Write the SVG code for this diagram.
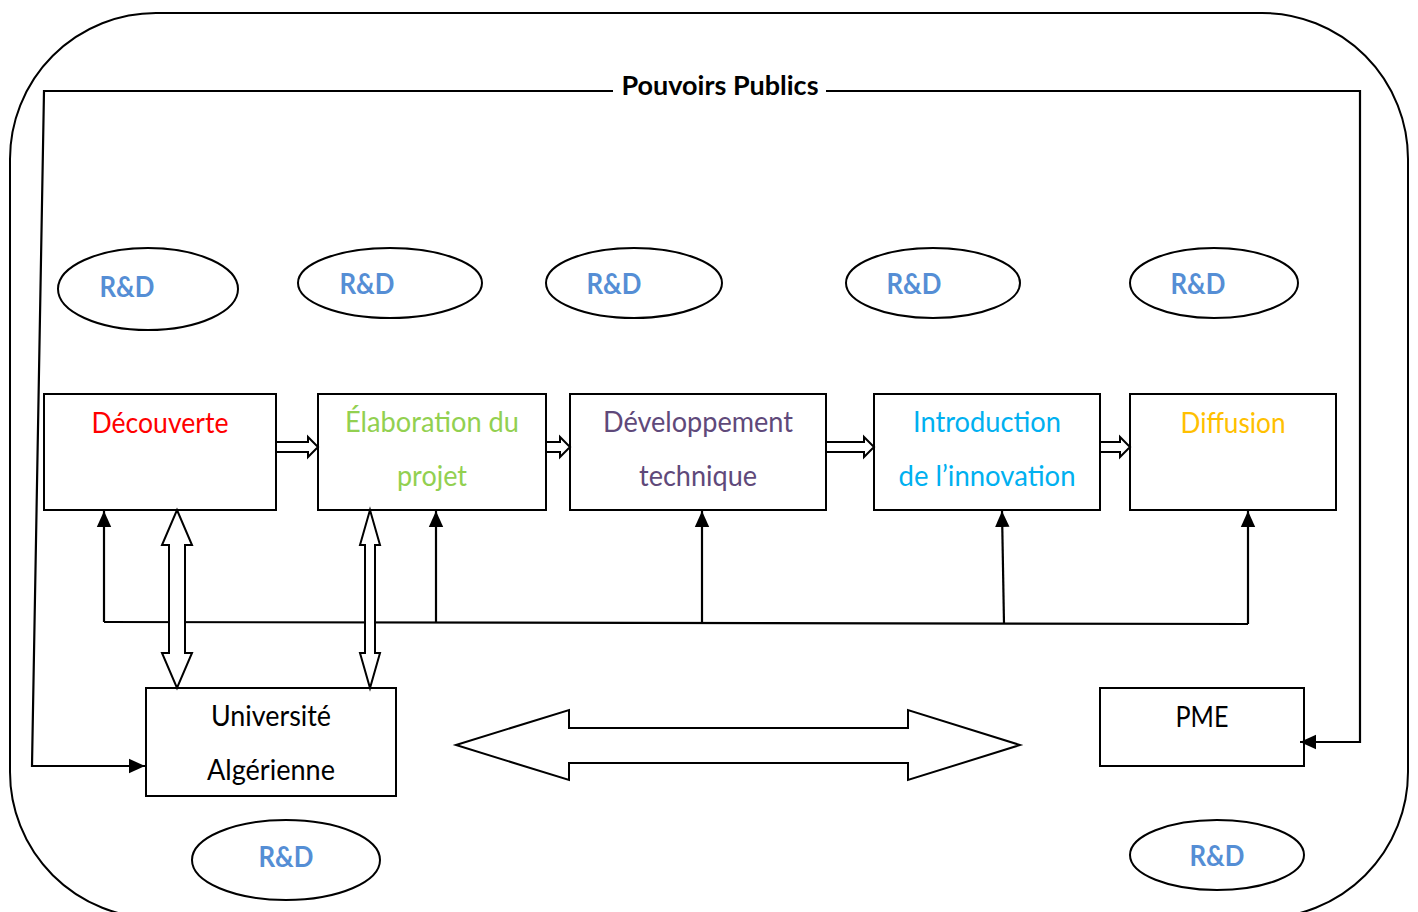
<svg xmlns="http://www.w3.org/2000/svg" width="1418" height="912" viewBox="0 0 1418 912">
  <style>
    .frame { fill: none; stroke: #000; stroke-width: 2; }
    .box { fill: #fff; stroke: #000; stroke-width: 2; }
    .oval { fill: #fff; stroke: #000; stroke-width: 2; }
    .line { fill: none; stroke: #000; stroke-width: 2.2; }
    .hollow { fill: #fff; stroke: #000; stroke-width: 2; stroke-linejoin: miter; }
    .lbl { font-family: Lato, "Open Sans", "Liberation Sans", sans-serif; font-size: 28px; text-anchor: middle; }
    .rd { font-family: Lato, "Open Sans", "Liberation Sans", sans-serif; font-size: 28px; font-weight: bold; fill: #558ED5; text-anchor: middle; }
  </style>
  <defs>
    <marker id="tip" viewBox="0 0 10 10" refX="10" refY="5" markerWidth="16" markerHeight="16" markerUnits="userSpaceOnUse" orient="auto" preserveAspectRatio="none">
      <path d="M0,0.5 L10,5 L0,9.5 z" fill="#000"/>
    </marker>
  </defs>

  <!-- outer rounded frame -->
  <rect class="frame" x="10" y="13" width="1398" height="905" rx="146" ry="146"/>

  <!-- Pouvoirs Publics boundary -->
  <g id="pouvoirs-publics">
    <text x="720" y="95" font-family="Lato, 'Open Sans', 'Liberation Sans', sans-serif" font-size="27" font-weight="bold" text-anchor="middle" textLength="197" lengthAdjust="spacingAndGlyphs">Pouvoirs Publics</text>
  </g>

  <!-- R&D ovals -->
  <g id="rd-1"><ellipse class="oval" cx="148" cy="289" rx="90" ry="41"/><text class="rd" x="127" y="297" textLength="55" lengthAdjust="spacingAndGlyphs">R&amp;D</text></g>
  <g id="rd-2"><ellipse class="oval" cx="390" cy="283" rx="92" ry="35"/><text class="rd" x="367" y="294" textLength="55" lengthAdjust="spacingAndGlyphs">R&amp;D</text></g>
  <g id="rd-3"><ellipse class="oval" cx="634" cy="283" rx="88" ry="35"/><text class="rd" x="614" y="294" textLength="55" lengthAdjust="spacingAndGlyphs">R&amp;D</text></g>
  <g id="rd-4"><ellipse class="oval" cx="933" cy="283" rx="87" ry="35"/><text class="rd" x="914" y="294" textLength="55" lengthAdjust="spacingAndGlyphs">R&amp;D</text></g>
  <g id="rd-5"><ellipse class="oval" cx="1214" cy="283" rx="84" ry="35"/><text class="rd" x="1198" y="294" textLength="55" lengthAdjust="spacingAndGlyphs">R&amp;D</text></g>
  <g id="rd-6"><ellipse class="oval" cx="286" cy="860" rx="94" ry="40"/><text class="rd" x="286" y="867" textLength="55" lengthAdjust="spacingAndGlyphs">R&amp;D</text></g>
  <g id="rd-7"><ellipse class="oval" cx="1217" cy="855" rx="87" ry="35"/><text class="rd" x="1217" y="866" textLength="55" lengthAdjust="spacingAndGlyphs">R&amp;D</text></g>

  <!-- stage boxes -->
  <g id="decouverte">
    <rect class="box" x="44" y="394" width="232" height="116"/>
    <text class="lbl" x="160" y="433" fill="#FF0000" textLength="137" lengthAdjust="spacingAndGlyphs">Découverte</text>
  </g>
  <g id="elaboration">
    <rect class="box" x="318" y="394" width="228" height="116"/>
    <text class="lbl" x="432" y="432" fill="#92D050" textLength="174" lengthAdjust="spacingAndGlyphs">Élaboration du</text>
    <text class="lbl" x="432" y="486" fill="#92D050" textLength="70" lengthAdjust="spacingAndGlyphs">projet</text>
  </g>
  <g id="developpement">
    <rect class="box" x="570" y="394" width="256" height="116"/>
    <text class="lbl" x="698" y="432" fill="#5F497A" textLength="190" lengthAdjust="spacingAndGlyphs">Développement</text>
    <text class="lbl" x="698" y="486" fill="#5F497A" textLength="118" lengthAdjust="spacingAndGlyphs">technique</text>
  </g>
  <g id="introduction">
    <rect class="box" x="874" y="394" width="226" height="116"/>
    <text class="lbl" x="987" y="432" fill="#00B0F0" textLength="148" lengthAdjust="spacingAndGlyphs">Introduction</text>
    <text class="lbl" x="987" y="486" fill="#00B0F0" textLength="177" lengthAdjust="spacingAndGlyphs">de l’innovation</text>
  </g>
  <g id="diffusion">
    <rect class="box" x="1130" y="394" width="206" height="116"/>
    <text class="lbl" x="1233" y="433" fill="#FFC000" textLength="105" lengthAdjust="spacingAndGlyphs">Diffusion</text>
  </g>

  <g id="universite">
    <rect class="box" x="146" y="688" width="250" height="108"/>
    <text class="lbl" x="271" y="726" fill="#000" textLength="120" lengthAdjust="spacingAndGlyphs">Université</text>
    <text class="lbl" x="271" y="780" fill="#000" textLength="128" lengthAdjust="spacingAndGlyphs">Algérienne</text>
  </g>
  <g id="pme">
    <rect class="box" x="1100" y="688" width="204" height="78"/>
    <text class="lbl" x="1202" y="727" fill="#000" textLength="53" lengthAdjust="spacingAndGlyphs">PME</text>
  </g>

  <!-- connectors -->
  <g id="connectors">
    <!-- Pouvoirs Publics boundary lines ending in arrows -->
    <path class="line" d="M613,91 L44,91 L32,766 L145,766" marker-end="url(#tip)"/>
    <path class="line" d="M826,91 L1360,91 L1360,742 L1300,742" marker-end="url(#tip)"/>

    <!-- hollow arrows between stages -->
    <polygon class="hollow" points="276,442 308,442 308,437 318,447 308,457 308,452 276,452"/>
    <polygon class="hollow" points="546,442 560,442 560,437 570,447 560,457 560,452 546,452"/>
    <polygon class="hollow" points="826,442 864,442 864,437 874,447 864,457 864,452 826,452"/>
    <polygon class="hollow" points="1100,442 1120,442 1120,437 1130,447 1120,457 1120,452 1100,452"/>

    <!-- feedback bus with upward arrows -->
    <path class="line" d="M104,622 L1248,624"/>
    <path class="line" d="M104,622 L104,511" marker-end="url(#tip)"/>
    <path class="line" d="M436,622 L436,511" marker-end="url(#tip)"/>
    <path class="line" d="M702,623 L702,511" marker-end="url(#tip)"/>
    <path class="line" d="M1004,624 L1002,511" marker-end="url(#tip)"/>
    <path class="line" d="M1248,624 L1248,511" marker-end="url(#tip)"/>

    <!-- vertical two-way hollow arrows to the university -->
    <polygon class="hollow" points="177,510 192,545 185,545 185,653 192,653 177,688 162,653 169,653 169,545 162,545"/>
    <polygon class="hollow" points="370,510 380,545 375,545 375,653 380,653 370,688 360,653 365,653 365,545 360,545"/>

    <!-- large two-way arrow between university and PME -->
    <polygon class="hollow" points="456,745 569,710 569,728 908,728 908,710 1020,745 908,780 908,763 569,763 569,780"/>
  </g>
</svg>
